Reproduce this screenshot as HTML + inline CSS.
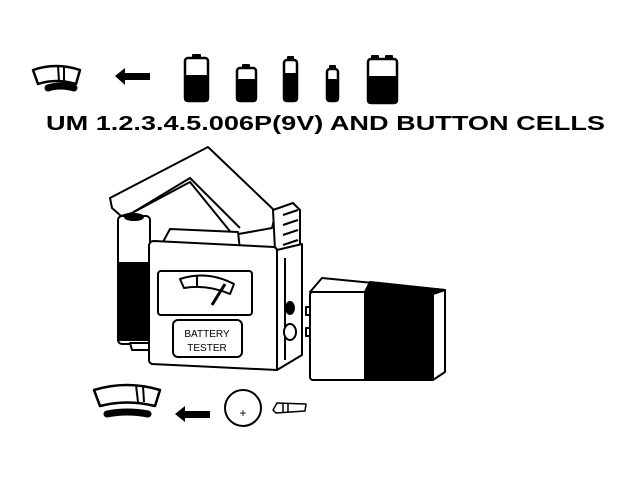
<!DOCTYPE html>
<html><head><style>html,body{margin:0;padding:0;background:#fff;width:640px;height:480px;overflow:hidden}</style></head>
<body>
<svg width="640" height="480" viewBox="0 0 640 480" xmlns="http://www.w3.org/2000/svg" fill="none" stroke="#000" stroke-width="2" stroke-linejoin="round">
<!-- top meter icon -->
<path d="M33 70 Q56 62 80 70 L76 84 Q56 78 38 84 Z" stroke-width="2.5"/>
<line x1="58" y1="66" x2="59" y2="81"/><line x1="64" y1="66" x2="64" y2="81"/>
<path d="M48 88 Q60 84 74 88" stroke-width="7" stroke-linecap="round"/>
<!-- arrow -->
<polygon points="115,76 125,68 125,73 150,73 150,80 125,80 125,85" fill="#000" stroke="none"/>
<!-- batteries -->
<g fill="#000" stroke="#000">
<rect x="185" y="58" width="23" height="43" rx="3" fill="#fff" stroke-width="2.5"/><rect x="185" y="76" width="23" height="25" rx="2"/><rect x="193" y="55" width="7" height="3"/>
<rect x="237" y="68" width="19" height="33" rx="3" fill="#fff" stroke-width="2.5"/><rect x="237" y="80" width="19" height="21" rx="2"/><rect x="243" y="65" width="6" height="3"/>
<rect x="284" y="60" width="13" height="41" rx="3" fill="#fff" stroke-width="2.5"/><rect x="284" y="74" width="13" height="27" rx="2"/><rect x="288" y="57" width="5" height="3"/>
<rect x="327" y="69" width="11" height="32" rx="3" fill="#fff" stroke-width="2.5"/><rect x="327" y="80" width="11" height="21" rx="2"/><rect x="330" y="66" width="5" height="3"/>
<rect x="368" y="59" width="29" height="44" rx="3" fill="#fff" stroke-width="2.5"/><rect x="368" y="77" width="29" height="26" rx="2"/><rect x="372" y="56" width="6" height="3"/><rect x="386" y="56" width="6" height="3"/>
</g>
<text x="46" y="130" font-family="Liberation Sans, sans-serif" font-weight="bold" font-size="20" fill="#000" stroke="none" textLength="559" lengthAdjust="spacingAndGlyphs">UM 1.2.3.4.5.006P(9V) AND BUTTON CELLS</text>
<!-- handle -->
<path d="M110 198 L208 147 L276 212 L272 228 L233 235 L190 182 L132 213 L121 216 L112 208 Z" fill="#fff"/>
<path d="M132 213 L190 178 L240 228"/>
<!-- right clip -->
<path d="M273 210 L293 203 L300 210 L300 255 L283 262 L275 250 Z" fill="#fff"/>
<line x1="283" y1="215" x2="298" y2="210"/><line x1="283" y1="225" x2="298" y2="220"/><line x1="283" y1="235" x2="298" y2="230"/><line x1="283" y1="245" x2="298" y2="240"/>
<!-- left battery -->
<rect x="118" y="216" width="32" height="128" rx="4" fill="#fff"/>
<path d="M118 263 L150 263 L150 340 L118 340 Z" fill="#000"/>
<ellipse cx="134" cy="217" rx="9" ry="3" fill="#000"/>
<!-- base -->
<path d="M130 343 L150 343 L150 350 L132 350 Z" fill="#fff"/>
<!-- top plate -->
<path d="M163 242 L170 229 L238 232 L240 250 Z" fill="#fff"/>
<!-- side -->
<path d="M277 250 L302 244 L302 355 L277 370 Z" fill="#fff"/>
<line x1="285" y1="258" x2="285" y2="360"/>
<ellipse cx="290" cy="308" rx="4" ry="6" fill="#000"/>
<ellipse cx="290" cy="332" rx="6" ry="8" fill="#fff"/>
<!-- front -->
<path d="M149 245 Q150 241 154 241 L274 247 Q277 248 277 251 L277 370 L152 364 Q149 363 149 360 Z" fill="#fff"/>
<rect x="158" y="271" width="94" height="44" rx="3"/>
<path d="M180 279 Q207 270 234 284 L230 294 Q207 284 184 288 Z" fill="#fff"/>
<line x1="197" y1="276" x2="197" y2="286"/>
<line x1="225" y1="284" x2="212" y2="305" stroke-width="3"/>
<rect x="173" y="320" width="69" height="37" rx="5"/>
<text x="207" y="337" font-family="Liberation Sans, sans-serif" font-size="10" fill="#000" stroke="none" text-anchor="middle">BATTERY</text>
<text x="207" y="351" font-family="Liberation Sans, sans-serif" font-size="10" fill="#000" stroke="none" text-anchor="middle">TESTER</text>
<!-- 9V battery -->
<path d="M310 292 L322 278 L445 290 L433 294 Z" fill="#fff"/>
<path d="M370 282 L445 290 L433 294 L365 292 Z" fill="#000"/>
<path d="M433 294 L445 290 L445 372 L433 380 Z" fill="#fff"/>
<rect x="310" y="292" width="123" height="88" rx="3" fill="#fff"/>
<rect x="365" y="293" width="68" height="87" fill="#000"/>
<rect x="306" y="307" width="4" height="8"/><rect x="306" y="328" width="4" height="8"/>
<!-- bottom meter icon -->
<path d="M94 390 Q127 380 160 390 L155 406 Q127 399 100 406 Z" stroke-width="2.5"/>
<line x1="136" y1="385" x2="138" y2="402"/><line x1="143" y1="386" x2="144" y2="402"/>
<path d="M107 414 Q127 410 148 414" stroke-width="7" stroke-linecap="round"/>
<polygon points="175,414 185,406 185,411 210,411 210,418 185,418 185,422" fill="#000" stroke="none"/>
<circle cx="243" cy="408" r="18"/>
<text x="243" y="417" font-family="Liberation Sans, sans-serif" font-size="12" fill="#000" stroke="none" text-anchor="middle">+</text>
<path d="M273 410 L277 403 L306 404 L305 411 L276 413 Z" stroke-width="1.5"/>
<line x1="283" y1="404" x2="283" y2="412" stroke-width="1.5"/><line x1="288" y1="404" x2="288" y2="412" stroke-width="1.5"/>
</svg>
</body></html>
